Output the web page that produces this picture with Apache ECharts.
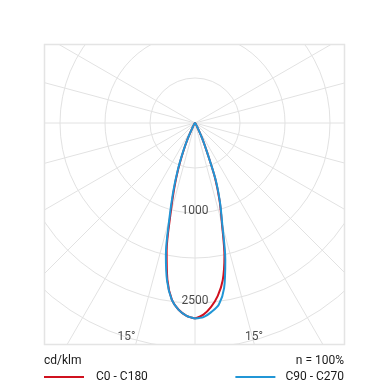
<!DOCTYPE html>
<html>
<head>
<meta charset="utf-8">
<script src="https://cdn.jsdelivr.net/npm/echarts@6/dist/echarts.min.js"></script>
<style>html,body{margin:0;padding:0;background:#fff}#c{width:390px;height:390px}</style>
</head>
<body>
<div id="c"></div>
<script>
// Emission angles gamma (degrees from nadir)
const gammas = [0, 2.5, 5, 7.5, 10, 12.5, 15, 17.5, 20, 22.5, 25, 30, 35, 40, 45, 60, 75, 90];
// Luminous intensity, cd/klm
const c0   = [2715, 2664, 2563, 2421, 2218, 1889, 1444, 1139, 819, 431, 236, 56, 21, 10, 6, 3, 1, 0];
const c180 = [2715, 2681, 2604, 2472, 2208, 1819, 1319, 972, 681, 417, 222, 56, 21, 10, 6, 3, 1, 0];
const c90  = [2715, 2699, 2633, 2542, 2329, 1944, 1467, 1153, 833, 431, 236, 56, 21, 10, 6, 3, 1, 0];
const c270 = [2715, 2681, 2606, 2475, 2231, 1869, 1375, 1014, 708, 438, 236, 56, 21, 10, 6, 3, 1, 0];
// Radial grid
const ringStep = 625;
const ringMax = 3750;
const ringLabels = [{ value: 1250, text: '1000' }, { value: 2500, text: '2500' }];
// Angular grid (spokes), degrees from nadir, clockwise through the left side
const spokeAngles = [0, 15, 30, 45, 60, 75, 90, 105, 120, 240, 255, 270, 285, 300, 315, 330, 345];
const angleLabels = [{ value: [3121, 17.75], text: '15°' }, { value: [3083, 344.6], text: '15°' }];
const seriesNames = ['C0 - C180', 'C90 - C270'];
const unitText = 'cd/klm';
const effText = 'n = 100%';

function plane(left, right) {
  const pts = [];
  for (let i = 0; i < gammas.length; i++) pts.push([left[i], gammas[i]]);
  for (let i = gammas.length - 1; i >= 0; i--) pts.push([right[i], 360 - gammas[i]]);
  return pts;
}

const FONT = 'Roboto';
const TXT = '#1a1a1a';
const GRID = '#e2e2e2';
const chart = echarts.init(document.getElementById('c'), null, { renderer: 'canvas' });

const spokeSeries = spokeAngles.map(a => ({
  type: 'line', coordinateSystem: 'polar', silent: true, symbol: 'none', z: 1,
  lineStyle: { color: GRID, width: 1 }, data: [[0, a], [ringMax, a]], animation: false
}));

const option = {
  animation: false,
  backgroundColor: '#fff',
  polar: { center: [195, 123], radius: 270 },
  angleAxis: {
    type: 'value', min: 0, max: 360, startAngle: -90, clockwise: true,
    axisLine: { show: false }, axisTick: { show: false }, axisLabel: { show: false },
    splitLine: { show: false }
  },
  radiusAxis: {
    type: 'value', min: 0, max: ringMax, interval: ringStep,
    axisLine: { show: false }, axisTick: { show: false }, axisLabel: { show: false },
    splitLine: { show: true, lineStyle: { color: GRID, width: 1 } }
  },
  title: [
    { text: unitText, left: 44, top: 355, padding: 0, z: 200,
      textStyle: { fontFamily: FONT, fontSize: 12, fontWeight: 'normal', color: TXT } },
    { text: effText, right: 46, top: 355, padding: 0, z: 200,
      textStyle: { fontFamily: FONT, fontSize: 12, fontWeight: 'normal', color: TXT } }
  ],
  legend: [
    { data: [seriesNames[0]], left: 44, top: 371, padding: 0, z: 200, icon: 'rect', itemWidth: 40, itemHeight: 2,
      selectedMode: false, textStyle: { fontFamily: FONT, fontSize: 12, color: TXT, padding: [0, 0, 0, 7] } },
    { data: [seriesNames[1]], right: 46, top: 371, padding: 0, z: 200, icon: 'rect', itemWidth: 40, itemHeight: 2,
      selectedMode: false, textStyle: { fontFamily: FONT, fontSize: 12, color: TXT, padding: [0, 0, 0, 5] } }
  ],
  graphic: {
    elements: [
      { type: 'rect', z: 100, silent: true, shape: { x: 0, y: 0, width: 390, height: 44 }, style: { fill: '#fff' } },
      { type: 'rect', z: 100, silent: true, shape: { x: 0, y: 345, width: 390, height: 45 }, style: { fill: '#fff' } },
      { type: 'rect', z: 100, silent: true, shape: { x: 0, y: 0, width: 44, height: 390 }, style: { fill: '#fff' } },
      { type: 'rect', z: 100, silent: true, shape: { x: 345, y: 0, width: 45, height: 390 }, style: { fill: '#fff' } },
      { type: 'rect', z: 101, silent: true, shape: { x: 44.5, y: 44.5, width: 300, height: 300 },
        style: { fill: 'none', stroke: '#e4e4e4', lineWidth: 1.5 } }
    ]
  },
  series: [
    ...spokeSeries,
    {
      name: seriesNames[0], type: 'line', coordinateSystem: 'polar', symbol: 'none', smooth: 0.3, z: 3,
      color: '#d0111f', lineStyle: { color: '#d0111f', width: 2 }, itemStyle: { color: '#d0111f' },
      data: plane(c180, c0)
    },
    {
      name: seriesNames[1], type: 'line', coordinateSystem: 'polar', symbol: 'none', smooth: 0.3, z: 4,
      color: '#2196d6', lineStyle: { color: '#2196d6', width: 2 }, itemStyle: { color: '#2196d6' },
      data: plane(c270, c90)
    },
    {
      type: 'scatter', coordinateSystem: 'polar', symbolSize: 0, silent: true, z: 5,
      data: ringLabels.map(d => ({ value: [d.value, 0], name: d.text })),
      label: { show: true, position: 'inside', offset: [0, -2], formatter: p => p.name,
        fontFamily: FONT, fontSize: 12, color: TXT }
    },
    {
      type: 'scatter', coordinateSystem: 'polar', symbolSize: 0, silent: true, z: 5,
      data: angleLabels.map(d => ({ value: d.value, name: d.text })),
      label: { show: true, position: 'inside', formatter: p => p.name,
        fontFamily: FONT, fontSize: 12, color: TXT }
    }
  ]
};
chart.setOption(option);
</script>
</body>
</html>
